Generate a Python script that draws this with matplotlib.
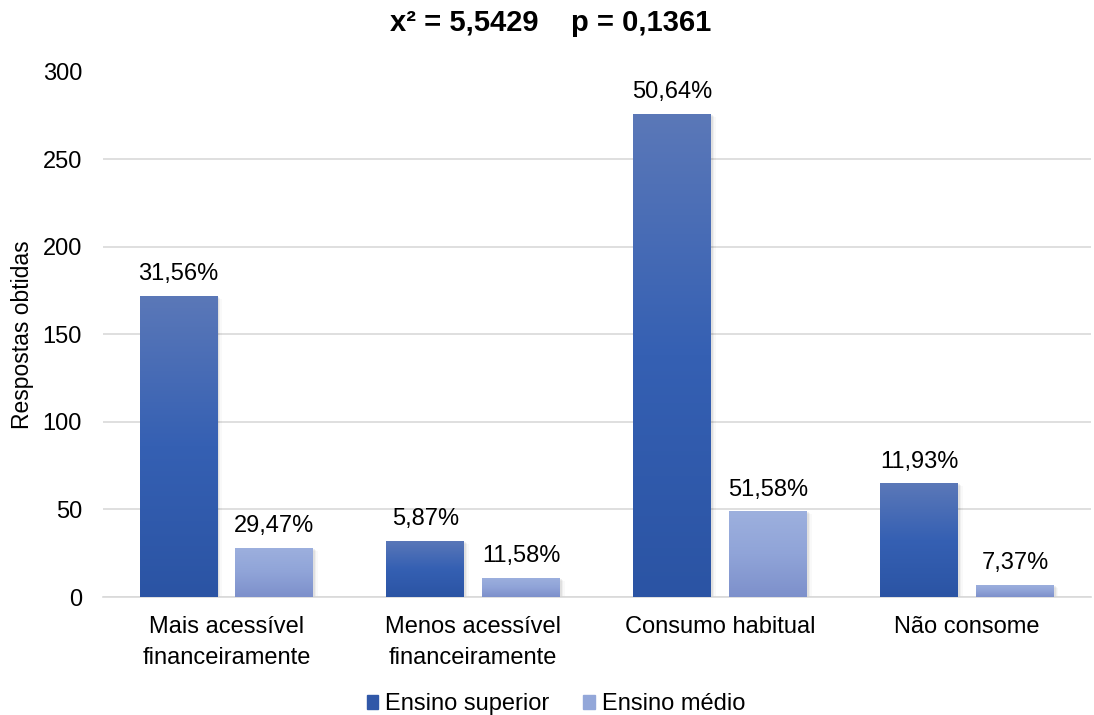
import numpy as np
import matplotlib.pyplot as plt
from matplotlib.colors import LinearSegmentedColormap
from matplotlib.patches import Rectangle, Patch

plt.rcParams['font.family'] = ['Liberation Sans', 'DejaVu Sans']

# Respostas por categoria e escolaridade
categorias = ['Mais acessível\nfinanceiramente', 'Menos acessível\nfinanceiramente',
              'Consumo habitual', 'Não consome']
superior = [172, 32, 276, 65]
medio = [28, 11, 49, 7]
rot_superior = ['31,56%', '5,87%', '50,64%', '11,93%']
rot_medio = ['29,47%', '11,58%', '51,58%', '7,37%']

fig, ax = plt.subplots(figsize=(10.94, 7.15), dpi=100)
fig.subplots_adjust(left=0.094, right=0.997, top=0.9, bottom=0.165)

x = np.arange(len(categorias))
largura = 0.315
desloc = 0.194

grad_sup = LinearSegmentedColormap.from_list('sup', ['#2B54A4', '#3560B3', '#5B78B8'])
grad_med = LinearSegmentedColormap.from_list('med', ['#7D90CB', '#90A4D8', '#9DB0DE'])


def barras_gradiente(xs, valores, cmap):
    barras = ax.bar(xs, valores, largura, color='none', zorder=3)
    for b in barras:
        x0, y0 = b.get_x(), b.get_y()
        w, h = b.get_width(), b.get_height()
        # sombra suave à direita e abaixo
        for i, a in enumerate([0.06, 0.04, 0.025]):
            d = 0.006 * (i + 1)
            ax.add_patch(Rectangle((x0 + d, y0 - 0.6 * (i + 1)), w, h, color='black',
                                   alpha=a, lw=0, zorder=2))
        img = np.linspace(0, 1, 256).reshape(-1, 1)
        im = ax.imshow(img, extent=[x0, x0 + w, y0, y0 + h], origin='lower',
                       aspect='auto', cmap=cmap, zorder=3)
        im.set_clip_path(b)
    return barras


b1 = barras_gradiente(x - desloc, superior, grad_sup)
b2 = barras_gradiente(x + desloc, medio, grad_med)

for b, txt in zip(b1, rot_superior):
    ax.text(b.get_x() + b.get_width() / 2, b.get_height() + 6, txt,
            ha='center', va='bottom', fontsize=17, color='#000000')
for b, txt in zip(b2, rot_medio):
    ax.text(b.get_x() + b.get_width() / 2, b.get_height() + 6, txt,
            ha='center', va='bottom', fontsize=17, color='#000000')

ax.set_xlim(-0.5, 3.5)
ax.set_ylim(0, 300)
ax.set_yticks(range(0, 301, 50))
ax.set_xticks(x)
ax.set_xticklabels(categorias, fontsize=17, linespacing=1.5)
ax.tick_params(axis='y', labelsize=17, length=0, pad=15)
ax.tick_params(axis='x', length=0, pad=14)
ax.grid(axis='y', color='#D9D9D9', linewidth=1.2, zorder=0)
ax.set_axisbelow(True)
for s in ['top', 'right', 'left']:
    ax.spines[s].set_visible(False)
ax.spines['bottom'].set_color('#D9D9D9')
ax.spines['bottom'].set_linewidth(1.2)

ax.set_ylabel('Respostas obtidas', fontsize=16.5, labelpad=6)
fig.suptitle('x² = 5,5429    p = 0,1361', fontsize=21, fontweight='bold',
             x=0.503, y=0.987, va='top')

handles = [Patch(color='#3158A8'), Patch(color='#93A7D9')]
fig.legend(handles, ['Ensino superior', 'Ensino médio'], loc='lower center',
           bbox_to_anchor=(0.508, -0.03), ncol=2, frameon=False, fontsize=17,
           handlelength=0.5, handleheight=0.5, handletextpad=0.3, columnspacing=1.4)

plt.savefig('out.png', dpi=100)
